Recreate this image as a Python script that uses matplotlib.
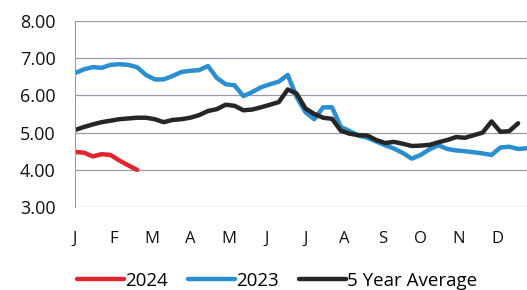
import matplotlib
matplotlib.use("Agg")
import matplotlib.pyplot as plt
import numpy as np

plt.rcParams['font.family'] = ['Open Sans', 'DejaVu Sans']

months = ['J', 'F', 'M', 'A', 'M', 'J', 'J', 'A', 'S', 'O', 'N', 'D']

# weekly values, week 1 = start of January
y2024 = [4.48, 4.46, 4.36, 4.42, 4.40, 4.25, 4.12, 4.00]

y2023 = [6.60, 6.70, 6.76, 6.74, 6.82, 6.84, 6.82, 6.76, 6.55, 6.43,
         6.43, 6.52, 6.63, 6.66, 6.68, 6.79, 6.47, 6.30, 6.27, 5.98,
         6.09, 6.22, 6.30, 6.37, 6.55, 5.96, 5.55, 5.36, 5.68, 5.68,
         5.15, 5.04, 4.92, 4.86, 4.76, 4.66, 4.57, 4.45, 4.30, 4.40,
         4.55, 4.66, 4.56, 4.52, 4.50, 4.47, 4.44, 4.40, 4.60, 4.62,
         4.56, 4.58]

avg5 = [5.07, 5.15, 5.22, 5.28, 5.32, 5.36, 5.38, 5.40, 5.40, 5.36,
        5.28, 5.34, 5.36, 5.40, 5.47, 5.58, 5.63, 5.75, 5.72, 5.60,
        5.62, 5.68, 5.75, 5.82, 6.16, 6.05, 5.65, 5.50, 5.40, 5.37,
        5.05, 4.97, 4.93, 4.92, 4.80, 4.72, 4.75, 4.70, 4.64, 4.65,
        4.67, 4.74, 4.80, 4.88, 4.86, 4.93, 5.00, 5.30, 5.02, 5.04,
        5.25]

def wk(vals):
    return np.arange(len(vals)) * 12 / 52

fig = plt.figure(figsize=(5.27, 2.90), dpi=100)
ax = fig.add_axes([75/527, 1-207/290, 1-75/527, (207-21)/290])

ax.plot(wk(y2024), y2024, color='#e0262b', lw=3.2, label='2024', solid_capstyle='round')
ax.plot(wk(y2023), y2023, color='#2a8fd0', lw=3.2, label='2023', solid_capstyle='round')
ax.plot(wk(avg5), avg5, color='#262626', lw=3.2, label='5 Year Average', solid_capstyle='round')

ax.set_xlim(0, 51*12/52)
ax.set_ylim(3, 8)
ax.set_yticks(np.arange(3, 8.01, 1))
ax.set_yticklabels(['%.2f' % v for v in np.arange(3, 8.01, 1)])
ax.set_xticks(range(12))
ax.set_xticklabels(months)
ax.tick_params(axis='y', length=0, pad=14, labelsize=13, colors='#111111')
ax.tick_params(axis='x', length=0, pad=17, labelsize=12, colors='#111111')
ax.grid(axis='y', color='#9d97aa', lw=0.9)
ax.set_axisbelow(True)
for s in ['top', 'right', 'bottom']:
    ax.spines[s].set_visible(False)
ax.spines['left'].set_color('#9d97aa')

fig.legend(loc='center', bbox_to_anchor=(277/527, 1-281/290), ncol=3, frameon=False,
           fontsize=13.5, handlelength=2.5, handletextpad=0.05, columnspacing=1.1,
           borderaxespad=0)

plt.savefig('out.png', dpi=100)
